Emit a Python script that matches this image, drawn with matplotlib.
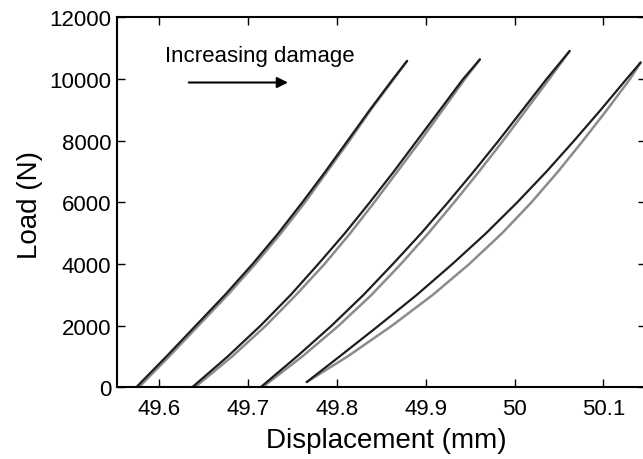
import matplotlib
matplotlib.use("Agg")
import matplotlib.pyplot as plt

plt.rcParams['font.family'] = ['Liberation Sans', 'DejaVu Sans']

# load levels (N) at which displacements were read, one list per test
load_1 = [0, 1000, 2000, 3000, 4000, 5000, 6000, 7000, 8000, 9000, 10000, 10590]
load_2 = [0, 1000, 2000, 3000, 4000, 5000, 6000, 7000, 8000, 9000, 10000, 10640]
load_3 = [0, 1000, 2000, 3000, 4000, 5000, 6000, 7000, 8000, 9000, 10000, 10910]
load_4 = [170, 1000, 2000, 3000, 4000, 5000, 6000, 7000, 8000, 9000, 10000, 10540]

# displacement (mm): black = measured, gray = model
disp_1_black = [49.574, 49.608, 49.641, 49.674, 49.705, 49.734,
                49.761, 49.787, 49.812, 49.837, 49.863, 49.879]
disp_1_gray = [49.577, 49.611, 49.644, 49.677, 49.708, 49.737,
               49.764, 49.789, 49.814, 49.838, 49.864, 49.879]
disp_2_black = [49.637, 49.677, 49.714, 49.748, 49.779, 49.809,
                49.837, 49.864, 49.890, 49.916, 49.942, 49.961]
disp_2_gray = [49.640, 49.682, 49.720, 49.754, 49.786, 49.815,
               49.842, 49.868, 49.894, 49.919, 49.944, 49.961]
disp_3_black = [49.714, 49.755, 49.794, 49.830, 49.863, 49.895,
                49.925, 49.954, 49.982, 50.009, 50.036, 50.062]
disp_3_gray = [49.716, 49.761, 49.802, 49.839, 49.872, 49.903,
               49.932, 49.960, 49.987, 50.013, 50.039, 50.062]
disp_4_black = [49.766, 49.803, 49.847, 49.890, 49.930, 49.968,
                50.003, 50.036, 50.067, 50.097, 50.126, 50.142]
disp_4_gray = [49.766, 49.812, 49.862, 49.908, 49.949, 49.986,
               50.019, 50.049, 50.077, 50.104, 50.130, 50.142]

x_ticks = [49.6, 49.7, 49.8, 49.9, 50.0, 50.1]
x_tick_labels = ['49.6', '49.7', '49.8', '49.9', '50', '50.1']
y_ticks = [0, 2000, 4000, 6000, 8000, 10000, 12000]

fig = plt.figure(figsize=(6.43, 4.60), dpi=100)
ax = fig.add_axes([0.1815, 0.1559, 0.8224, 0.8039])

pairs = [(disp_1_black, disp_1_gray, load_1),
         (disp_2_black, disp_2_gray, load_2),
         (disp_3_black, disp_3_gray, load_3),
         (disp_4_black, disp_4_gray, load_4)]
for black, gray, load in pairs:
    ax.plot(gray, load, color='#8c8c8c', lw=1.8, solid_capstyle='round',
            solid_joinstyle='round')
    ax.plot(black, load, color='#1e1e1e', lw=1.6, solid_capstyle='round',
            solid_joinstyle='round')

ax.set_xlim(49.552, 50.1475)
ax.set_ylim(0, 12000)
ax.set_xticks(x_ticks)
ax.set_xticklabels(x_tick_labels)
ax.set_yticks(y_ticks)
ax.tick_params(direction='in', length=6, width=1.0, labelsize=16,
               top=True, right=True, pad=8)
ax.tick_params(axis='y', pad=4)
for s in ax.spines.values():
    s.set_linewidth(1.5)

ax.set_xlabel('Displacement (mm)', fontsize=20)
ax.xaxis.label.set_va('center')
ax.xaxis.set_label_coords(0.51, -0.1425)
ax.set_ylabel('Load (N)', fontsize=20)
ax.yaxis.label.set_va('center')
ax.yaxis.set_label_coords(-0.164, 0.496)

ax.text(49.6064, 10760, 'Increasing damage', fontsize=16, va='center', ha='left')
ax.annotate('', xy=(49.748, 9890), xytext=(49.630, 9890),
            arrowprops=dict(arrowstyle='-|>', color='black', lw=1.5,
                            mutation_scale=16))

fig.savefig('out.png', dpi=100)
